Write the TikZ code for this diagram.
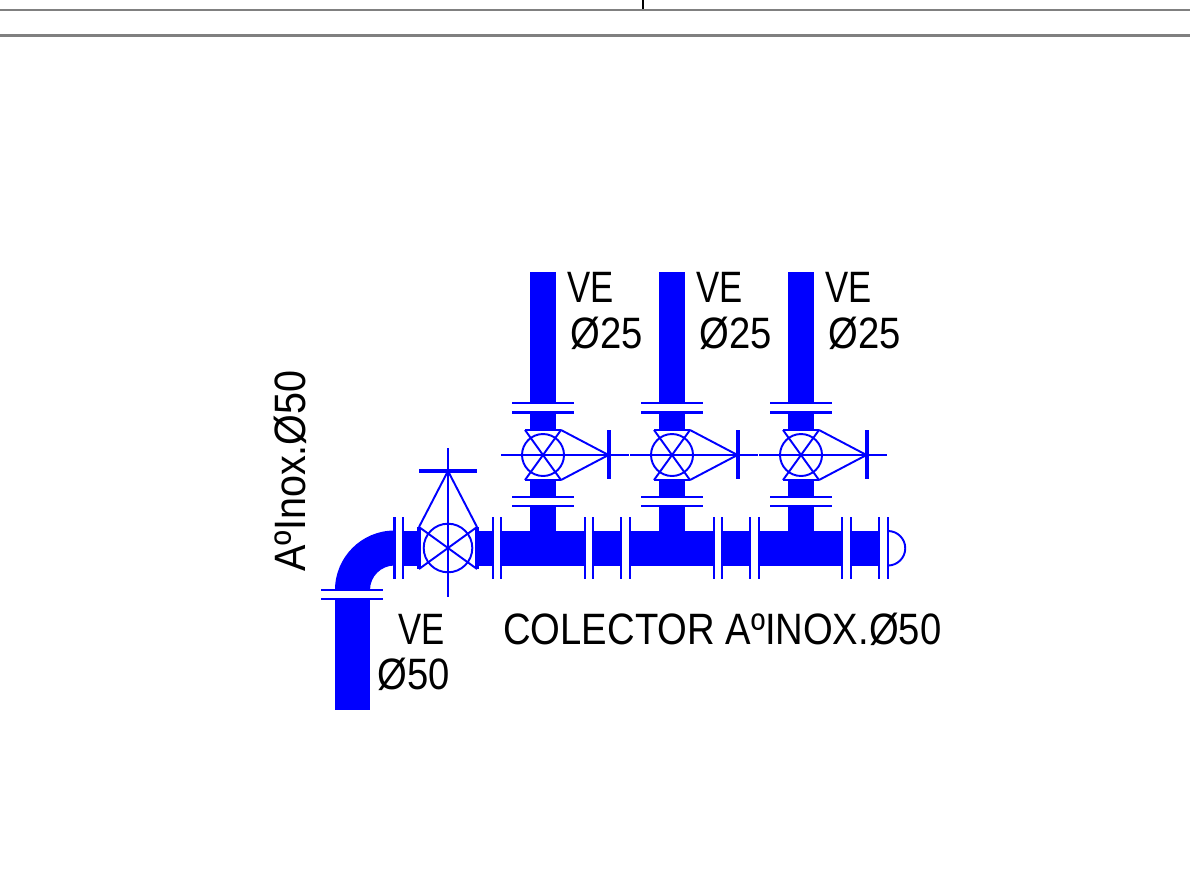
\documentclass[tikz,border=0pt]{standalone}
\usepackage{fontspec}
\setmainfont{Liberation Sans}
\newfontfamily\cadfont[FakeStretch=0.87]{Liberation Sans}
\newfontfamily\cadnarrow[FakeStretch=0.79]{Liberation Sans}
\newfontfamily\cadwide[FakeStretch=0.9]{Liberation Sans}
\definecolor{pipeblue}{RGB}{0,0,255}
\tikzset{%
pipe/.style={fill=pipeblue, draw=none},
flange/.style={draw=pipeblue, line width=1.3pt},
valveline/.style={draw=pipeblue, line width=1.1pt},
handle/.style={draw=pipeblue, line width=2.2pt},
sheetline/.style={draw=gray, line width=1.3pt},
cadtext/.style={text=black, inner sep=0pt, font=\cadfont\fontsize{25}{25}\selectfont},
vetext/.style={text=black, inner sep=0pt, font=\cadnarrow\fontsize{25}{25}\selectfont},
risertext/.style={text=black, inner sep=0pt, font=\cadwide\fontsize{25}{25}\selectfont}
}
\begin{document}
\begin{tikzpicture}[x=0.02cm, y=-0.02cm]
	\useasboundingbox (0,0) rectangle (1190,889);
	% sheet frame
	\draw[sheetline] (0,10) -- (1190,10);
	\draw[sheetline] (0,35.5) -- (1190,35.5);
	\draw[black, line width=0.6pt] (643,0) -- (643,9);

	% header segments
	\fill[pipe] (501,530.5) rectangle (585,565.5);
	\fill[pipe] (593,530.5) rectangle (621,565.5);
	\fill[pipe] (630,530.5) rectangle (714,565.5);
	\fill[pipe] (722,530.5) rectangle (750,565.5);
	\fill[pipe] (759,530.5) rectangle (842,565.5);
	\fill[pipe] (851,530.5) rectangle (879,565.5);
	\foreach \x in {394.5,403,493,501,585,593,621,630,714,722,750,759,842,851,879,888}
		\draw[flange] (\x,517) -- (\x,578.5);
	% end cap
	\draw[valveline] (888,531) arc (-90:90:17.25);

	% elbow and riser
	\fill[pipe] (394.5,530.5) arc (90:180:59.5 and -59.5) -- (370,590) arc (180:90:24.5 and -24.5) -- cycle;
	\fill[pipe] (335,599) rectangle (370,710);
	\draw[flange] (321,590) -- (383,590);
	\draw[flange] (321,599) -- (383,599);

	% main valve
	\fill[pipe] (403,530.5) rectangle (419,565.5);
	\fill[pipe] (477,530.5) rectangle (493,565.5);
	\draw[handle] (419,527) -- (419,569);
	\draw[handle] (477,527) -- (477,569);
	\draw[handle] (419,471) -- (477,471);
	\draw[valveline] (448,548) circle (24.3);
	\draw[valveline] (448,448) -- (448,597);
	\draw[valveline] (419,527) -- (477,569);
	\draw[valveline] (419,569) -- (477,527);
	\draw[valveline] (419,527) -- (448,471) -- (477,527);

	% branches
	\foreach \x in {543,672,801} {
		\fill[pipe] (\x-13.2,272) rectangle (\x+13.2,403.5);
		\fill[pipe] (\x-13.2,412.5) rectangle (\x+13.2,430);
		\fill[pipe] (\x-13.2,480) rectangle (\x+13.2,497);
		\fill[pipe] (\x-13.2,506) rectangle (\x+13.2,531);
		\draw[flange] (\x-31,403.2) -- (\x+31,403.2);
		\draw[flange] (\x-31,412.5) -- (\x+31,412.5);
		\draw[flange] (\x-31,497) -- (\x+31,497);
		\draw[flange] (\x-31,506) -- (\x+31,506);
		\draw[flange] (\x-18,430) -- (\x+18,430);
		\draw[flange] (\x-18,480) -- (\x+18,480);
		\draw[valveline] (\x,455) circle (21);
		\draw[valveline] (\x-42,455) -- (\x+85.5,455);
		\draw[valveline] (\x-18,430) -- (\x+18,480);
		\draw[valveline] (\x-18,480) -- (\x+18,430);
		\draw[valveline] (\x+18,430) -- (\x+65.5,455) -- (\x+18,480);
		\draw[handle] (\x+66,430) -- (\x+66,479);
	}

	% labels
	\node[vetext, anchor=west] (veone) at (567,287) {VE};
	\node[vetext, anchor=west] (vetwo) at (696,287) {VE};
	\node[vetext, anchor=west] (vethree) at (825,287) {VE};
	\node[cadtext, anchor=west] (dnone) at (570,333) {Ø25};
	\node[cadtext, anchor=west] (dntwo) at (699,333) {Ø25};
	\node[cadtext, anchor=west] (dnthree) at (828,333) {Ø25};
	\node[vetext, anchor=west] (vemain) at (398,629) {VE};
	\node[cadtext, anchor=west] (dnmain) at (377,674) {Ø50};
	\node[cadtext, anchor=west] (colector) at (503,629) {COLECTOR AºINOX.Ø50};
	\node[risertext, anchor=west, rotate=90] (riser) at (290,572) {AºInox.Ø50};
\end{tikzpicture}
\end{document}
